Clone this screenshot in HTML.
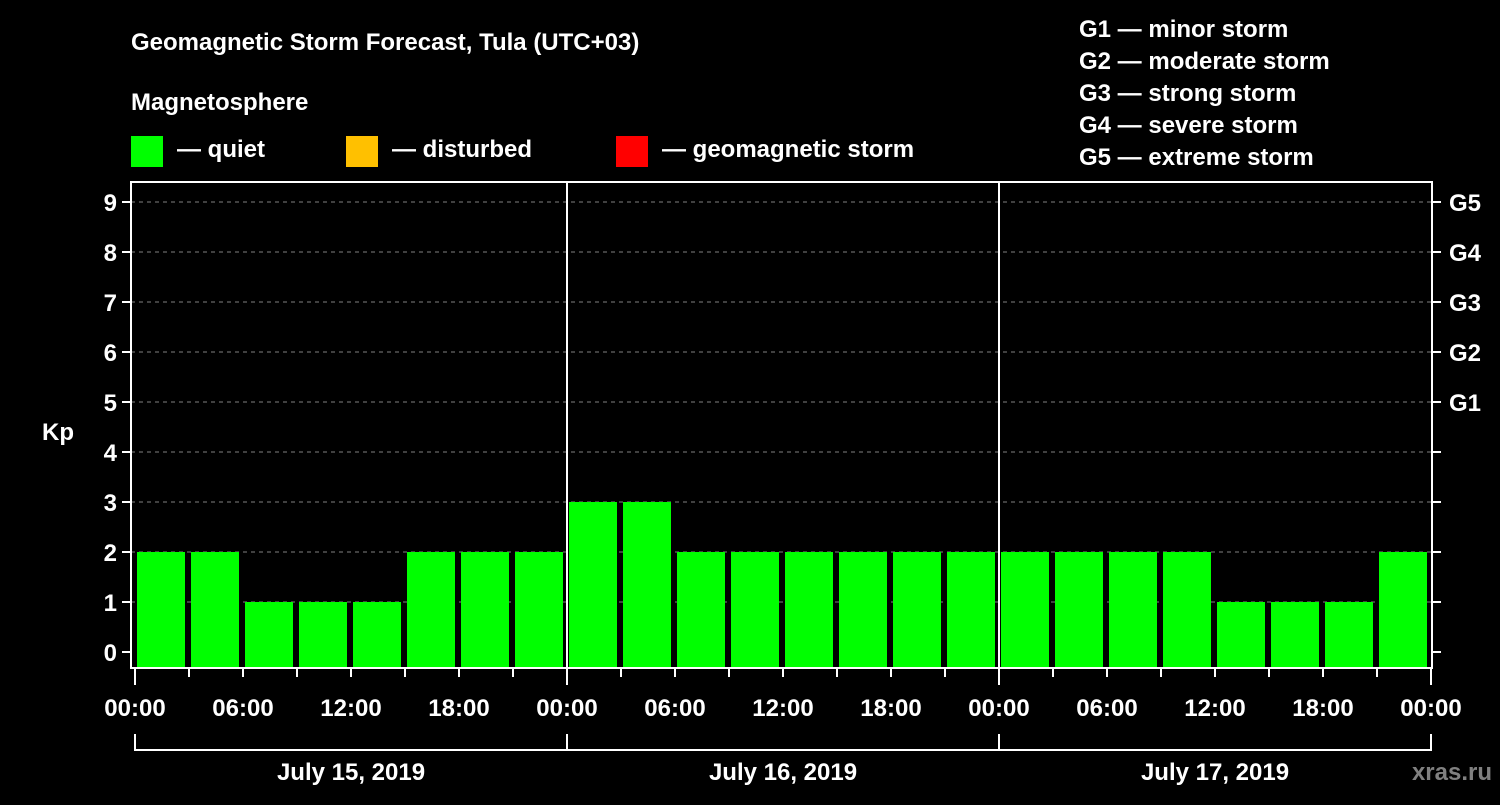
<!DOCTYPE html>
<html><head><meta charset="utf-8"><style>
body{margin:0;background:#000;width:1500px;height:800px;overflow:hidden;font-family:"Liberation Sans",Arial,sans-serif}
svg text{font-family:"Liberation Sans",Arial,sans-serif;font-weight:bold;fill:#fff}
</style></head><body>
<svg id="c" width="1500" height="800">
<text x="131" y="50" font-size="24">Geomagnetic Storm Forecast, Tula (UTC+03)</text>
<text x="131" y="110" font-size="24">Magnetosphere</text>
<g><rect x="131" y="136" width="32" height="31" fill="#00ff00"/><text x="177" y="157" font-size="24">— quiet</text></g>
<g><rect x="346" y="136" width="32" height="31" fill="#ffc000"/><text x="392" y="157" font-size="24">— disturbed</text></g>
<g><rect x="616" y="136" width="32" height="31" fill="#ff0000"/><text x="662" y="157" font-size="24">— geomagnetic storm</text></g>
<g font-size="24">
<text x="1079" y="37">G1 — minor storm</text>
<text x="1079" y="69">G2 — moderate storm</text>
<text x="1079" y="101">G3 — strong storm</text>
<text x="1079" y="133">G4 — severe storm</text>
<text x="1079" y="165">G5 — extreme storm</text>
</g>
<text x="42" y="440" font-size="24">Kp</text>
<text x="1492" y="780" font-size="24" fill="#808080" style="fill:#808080" text-anchor="end">xras.ru</text>
<g id="plot"></g>
</svg>
<script>
const values=[2,2,1,1,1,2,2,2, 3,3,2,2,2,2,2,2, 2,2,2,2,1,1,1,2];
const yTicks=[0,1,2,3,4,5,6,7,8,9];
const gLabels=["G1","G2","G3","G4","G5"];
const gLevels=[5,6,7,8,9];
const xLabels=["00:00","06:00","12:00","18:00","00:00","06:00","12:00","18:00","00:00","06:00","12:00","18:00","00:00"];
const days=["July 15, 2019","July 16, 2019","July 17, 2019"];
const NS="http://www.w3.org/2000/svg";
const g=document.getElementById('plot');
const X0=135,BW=54,FL=131,FR=1432,FT=182,FB=668;
const y=v=>652-50*v;
const x=i=>X0+i*BW;
function mk(t,a){const e=document.createElementNS(NS,t);for(const k in a)e.setAttribute(k,a[k]);g.appendChild(e);return e;}
yTicks.forEach(v=>{
 if(v>0&&v<=9){const l=mk('line',{x1:FL,x2:FR,y1:y(v),y2:y(v),stroke:'#808080','stroke-dasharray':'4,4'});
 
 }
 const t=mk('line',{x1:FL-9,x2:FL,y1:y(v),y2:y(v),stroke:'#fff','stroke-width':2});
 
 
 const t2=mk('line',{x1:FR,x2:FR+9,y1:y(v),y2:y(v),stroke:'#fff','stroke-width':2});
 
 
 const tx=mk('text',{x:FL-14,y:y(v)+9,'font-size':24,'text-anchor':'end'});tx.textContent=v;
 
 
});
gLabels.forEach((s,i)=>{const tx=mk('text',{x:1449,y:y(gLevels[i])+9,'font-size':24});tx.textContent=s;
 
 });
values.forEach((v,i)=>{
 const col=v>=5?'#ff0000':(v>=4?'#ffc000':'#00ff00');
 const r=mk('rect',{x:x(i)+2,y:y(v),width:48,height:FB-y(v),fill:col});
 
 
});
for(let d=1;d<days.length;d++){const l=mk('line',{x1:x(d*8),x2:x(d*8),y1:FT,y2:FB,stroke:'#fff','stroke-width':2});
 
 }
const fr=mk('rect',{x:FL,y:FT,width:FR-FL,height:FB-FT,fill:'none',stroke:'#fff','stroke-width':2});


for(let i=0;i<=24;i++){const big=i%8==0;
 const l=mk('line',{x1:x(i),x2:x(i),y1:FB,y2:FB+(big?17:9),stroke:'#fff','stroke-width':2});
 
 }
xLabels.forEach((s,i)=>{const tx=mk('text',{x:x(i*2),y:716,'font-size':24,'text-anchor':'middle'});tx.textContent=s;
 
 });
const br=mk('path',{d:`M${x(0)} 734V750H${x(24)}V734`,fill:'none',stroke:'#fff','stroke-width':2});


days.forEach((s,d)=>{const vl=mk('line',{x1:x(d*8),x2:x(d*8),y1:734,y2:750,stroke:'#fff','stroke-width':2});
 
 
 const tx=mk('text',{x:x(d*8+4),y:780,'font-size':24,'text-anchor':'middle'});tx.textContent=s;
 
 });
</script>
</body></html>
